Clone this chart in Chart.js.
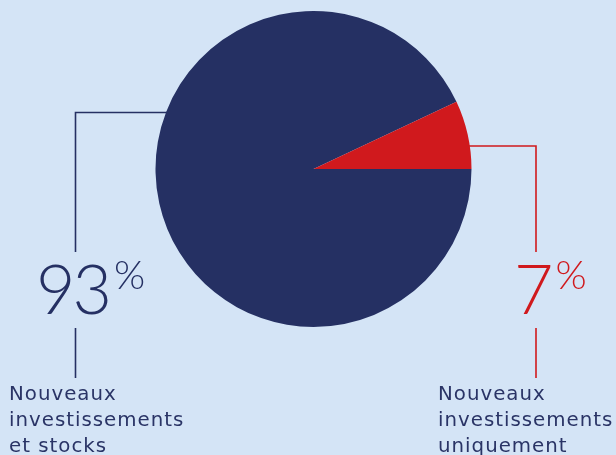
<!DOCTYPE html>
<html lang="fr">
<head>
<meta charset="utf-8">
<script src="https://cdn.jsdelivr.net/npm/chart.js@4/dist/chart.umd.min.js"></script>
<style>
  html, body { margin: 0; padding: 0; }
  body { width: 616px; height: 455px; background: #d4e4f6; position: relative; overflow: hidden; }
  #pie { position: absolute; left: 0; top: 0; }
  .pct { position: absolute; font-family: Lato, "Open Sans", sans-serif; font-weight: 300; line-height: 1; white-space: nowrap; }
  .pct .big { font-size: 68px; letter-spacing: -3px; }
  .pct sup { font-size: 40px; vertical-align: top; position: relative; top: 0px; margin-left: 5px; }
  .label { position: absolute; font-family: "DejaVu Sans", "Noto Sans", sans-serif; font-size: 19.8px; letter-spacing: 1px; line-height: 26px; color: #2a3466; white-space: nowrap; }
</style>
</head>
<body>
<canvas id="pie" width="616" height="455"></canvas>
<div class="pct" id="pctA" style="left:36px; top:254px; color:#253063;"></div>
<div class="pct" id="pctB" style="left:514px; top:254px; color:#d0191d;"></div>
<div class="label" id="labA" style="left:9px; top:381px;"></div>
<div class="label" id="labB" style="left:438px; top:381px;"></div>
<script>
const categories = ['Nouveaux investissements et stocks', 'Nouveaux investissements uniquement'];
const labelLines = [['Nouveaux', 'investissements', 'et stocks'], ['Nouveaux', 'investissements', 'uniquement']];
const shares = [93, 7];
const colors = ['#253063', '#d0191d'];

document.getElementById('pctA').innerHTML = '<span class="big">' + shares[0] + '</span><sup>%</sup>';
document.getElementById('pctB').innerHTML = '<span class="big">' + shares[1] + '</span><sup>%</sup>';
document.getElementById('labA').innerHTML = labelLines[0].join('<br>');
document.getElementById('labB').innerHTML = labelLines[1].join('<br>');

// leader lines: horizontal from the pie edge, then down to the percentage and on to the label
const leaders = {
    id: 'leaders',
    beforeDatasetsDraw(chart) {
        const arc = chart.getDatasetMeta(0).data[0];
        const cx = arc.x, cy = arc.y, r = arc.outerRadius;
        const c = chart.ctx;
        c.save();
        c.lineWidth = 1.6;

        // left side (large slice)
        let y = 112.5, xl = 75.5;
        let edge = cx - Math.sqrt(r * r - (cy - y) * (cy - y));
        c.strokeStyle = colors[0];
        c.beginPath();
        c.moveTo(edge + 4, y); c.lineTo(xl, y); c.lineTo(xl, 252);
        c.moveTo(xl, 328); c.lineTo(xl, 378);
        c.stroke();

        // right side (small slice)
        y = 146; const xr = 536;
        edge = cx + Math.sqrt(r * r - (cy - y) * (cy - y));
        c.strokeStyle = colors[1];
        c.beginPath();
        c.moveTo(edge - 4, y); c.lineTo(xr, y); c.lineTo(xr, 252);
        c.moveTo(xr, 328); c.lineTo(xr, 378);
        c.stroke();
        c.restore();
    }
};

new Chart(document.getElementById('pie'), {
    type: 'pie',
    data: {
        labels: categories,
        datasets: [{
            data: shares,
            backgroundColor: colors,
            borderWidth: 0
        }]
    },
    options: {
        responsive: false,
        animation: false,
        rotation: 90,
        layout: { padding: { left: 155.5, top: 11, right: 144.5, bottom: 128 } },
        plugins: {
            legend: { display: false },
            tooltip: { enabled: false }
        }
    },
    plugins: [leaders]
});
</script>
</body>
</html>
